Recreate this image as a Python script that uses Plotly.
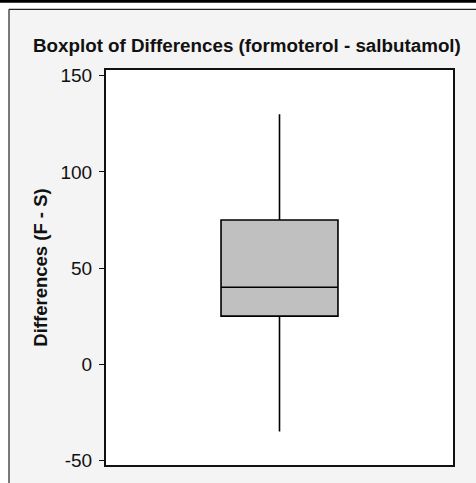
import plotly.graph_objects as go

# Data
categories = ["Differences"]
q1_vals = [25]
median_vals = [40]
q3_vals = [75]
lower_vals = [-35]
upper_vals = [130]
y_ticks = [-50, 0, 50, 100, 150]
y_ticklabels = ["-50", "0", "50", "100", "150"]

W, H = 476, 483
L, R, T, B = 106, 23, 70, 16
pw, ph = W - L - R, H - T - B

def px(x):
    return (x - L) / pw

def py(y):
    return (H - B - y) / ph

fig = go.Figure()
fig.add_trace(go.Box(
    x=categories,
    q1=q1_vals, median=median_vals, q3=q3_vals,
    lowerfence=lower_vals, upperfence=upper_vals,
    fillcolor="#c0c0c0",
    line=dict(color="#000000", width=1.6),
    whiskerwidth=0,
    width=0.337,
    boxpoints=False,
    hoverinfo="skip",
    showlegend=False,
))

shapes = [
    # white strips outside the outer frame
    dict(type="rect", xref="paper", yref="paper", x0=px(-5), x1=px(W + 5), y0=py(-5), y1=py(9),
         fillcolor="white", line=dict(width=0), layer="below"),
    dict(type="rect", xref="paper", yref="paper", x0=px(-5), x1=px(9), y0=py(-5), y1=py(H + 5),
         fillcolor="white", line=dict(width=0), layer="below"),
    # black band on top
    dict(type="rect", xref="paper", yref="paper", x0=px(-5), x1=px(W + 5), y0=py(-5), y1=py(2.5),
         fillcolor="black", line=dict(width=0), layer="below"),
    # outer frame lines
    dict(type="line", xref="paper", yref="paper", x0=px(9), x1=px(W + 5), y0=py(9), y1=py(9),
         line=dict(color="#222222", width=1.2), layer="below"),
    dict(type="line", xref="paper", yref="paper", x0=px(9), x1=px(9), y0=py(9), y1=py(H + 5),
         line=dict(color="#222222", width=1.2), layer="below"),
]

fig.update_layout(
    width=W, height=H,
    margin=dict(l=L, r=R, t=T, b=B, pad=0),
    paper_bgcolor="#f4f4f4",
    plot_bgcolor="white",
    font=dict(family="Liberation Sans, Arial", size=19, color="#111111"),
    shapes=shapes,
    annotations=[dict(
        text="<b>Boxplot of Differences (formoterol - salbutamol)</b>",
        xref="paper", yref="paper", x=px(247), y=py(45),
        xanchor="center", yanchor="middle", showarrow=False,
        font=dict(size=18.8, color="#111111"),
    )],
    xaxis=dict(
        showticklabels=False, ticks="", showgrid=False, zeroline=False,
        showline=True, linecolor="#111111", linewidth=2, mirror=True,
        range=[-0.5, 0.5],
    ),
    yaxis=dict(
        range=[-52.4, 153.0],
        tickvals=y_ticks, ticktext=y_ticklabels,
        ticks="outside", ticklen=5, tickwidth=1, tickcolor="#111111",
        showgrid=False, zeroline=False,
        showline=True, linecolor="#111111", linewidth=2, mirror=True,
        title=dict(text="<b>Differences (F - S)</b>", standoff=8,
                   font=dict(size=18.5)),
        ticklabelstandoff=3,
    ),
)

fig.write_html(
    "out.html",
    config={"displayModeBar": False},
    post_script="document.body.style.margin='0';document.body.style.overflow='hidden';",
)
